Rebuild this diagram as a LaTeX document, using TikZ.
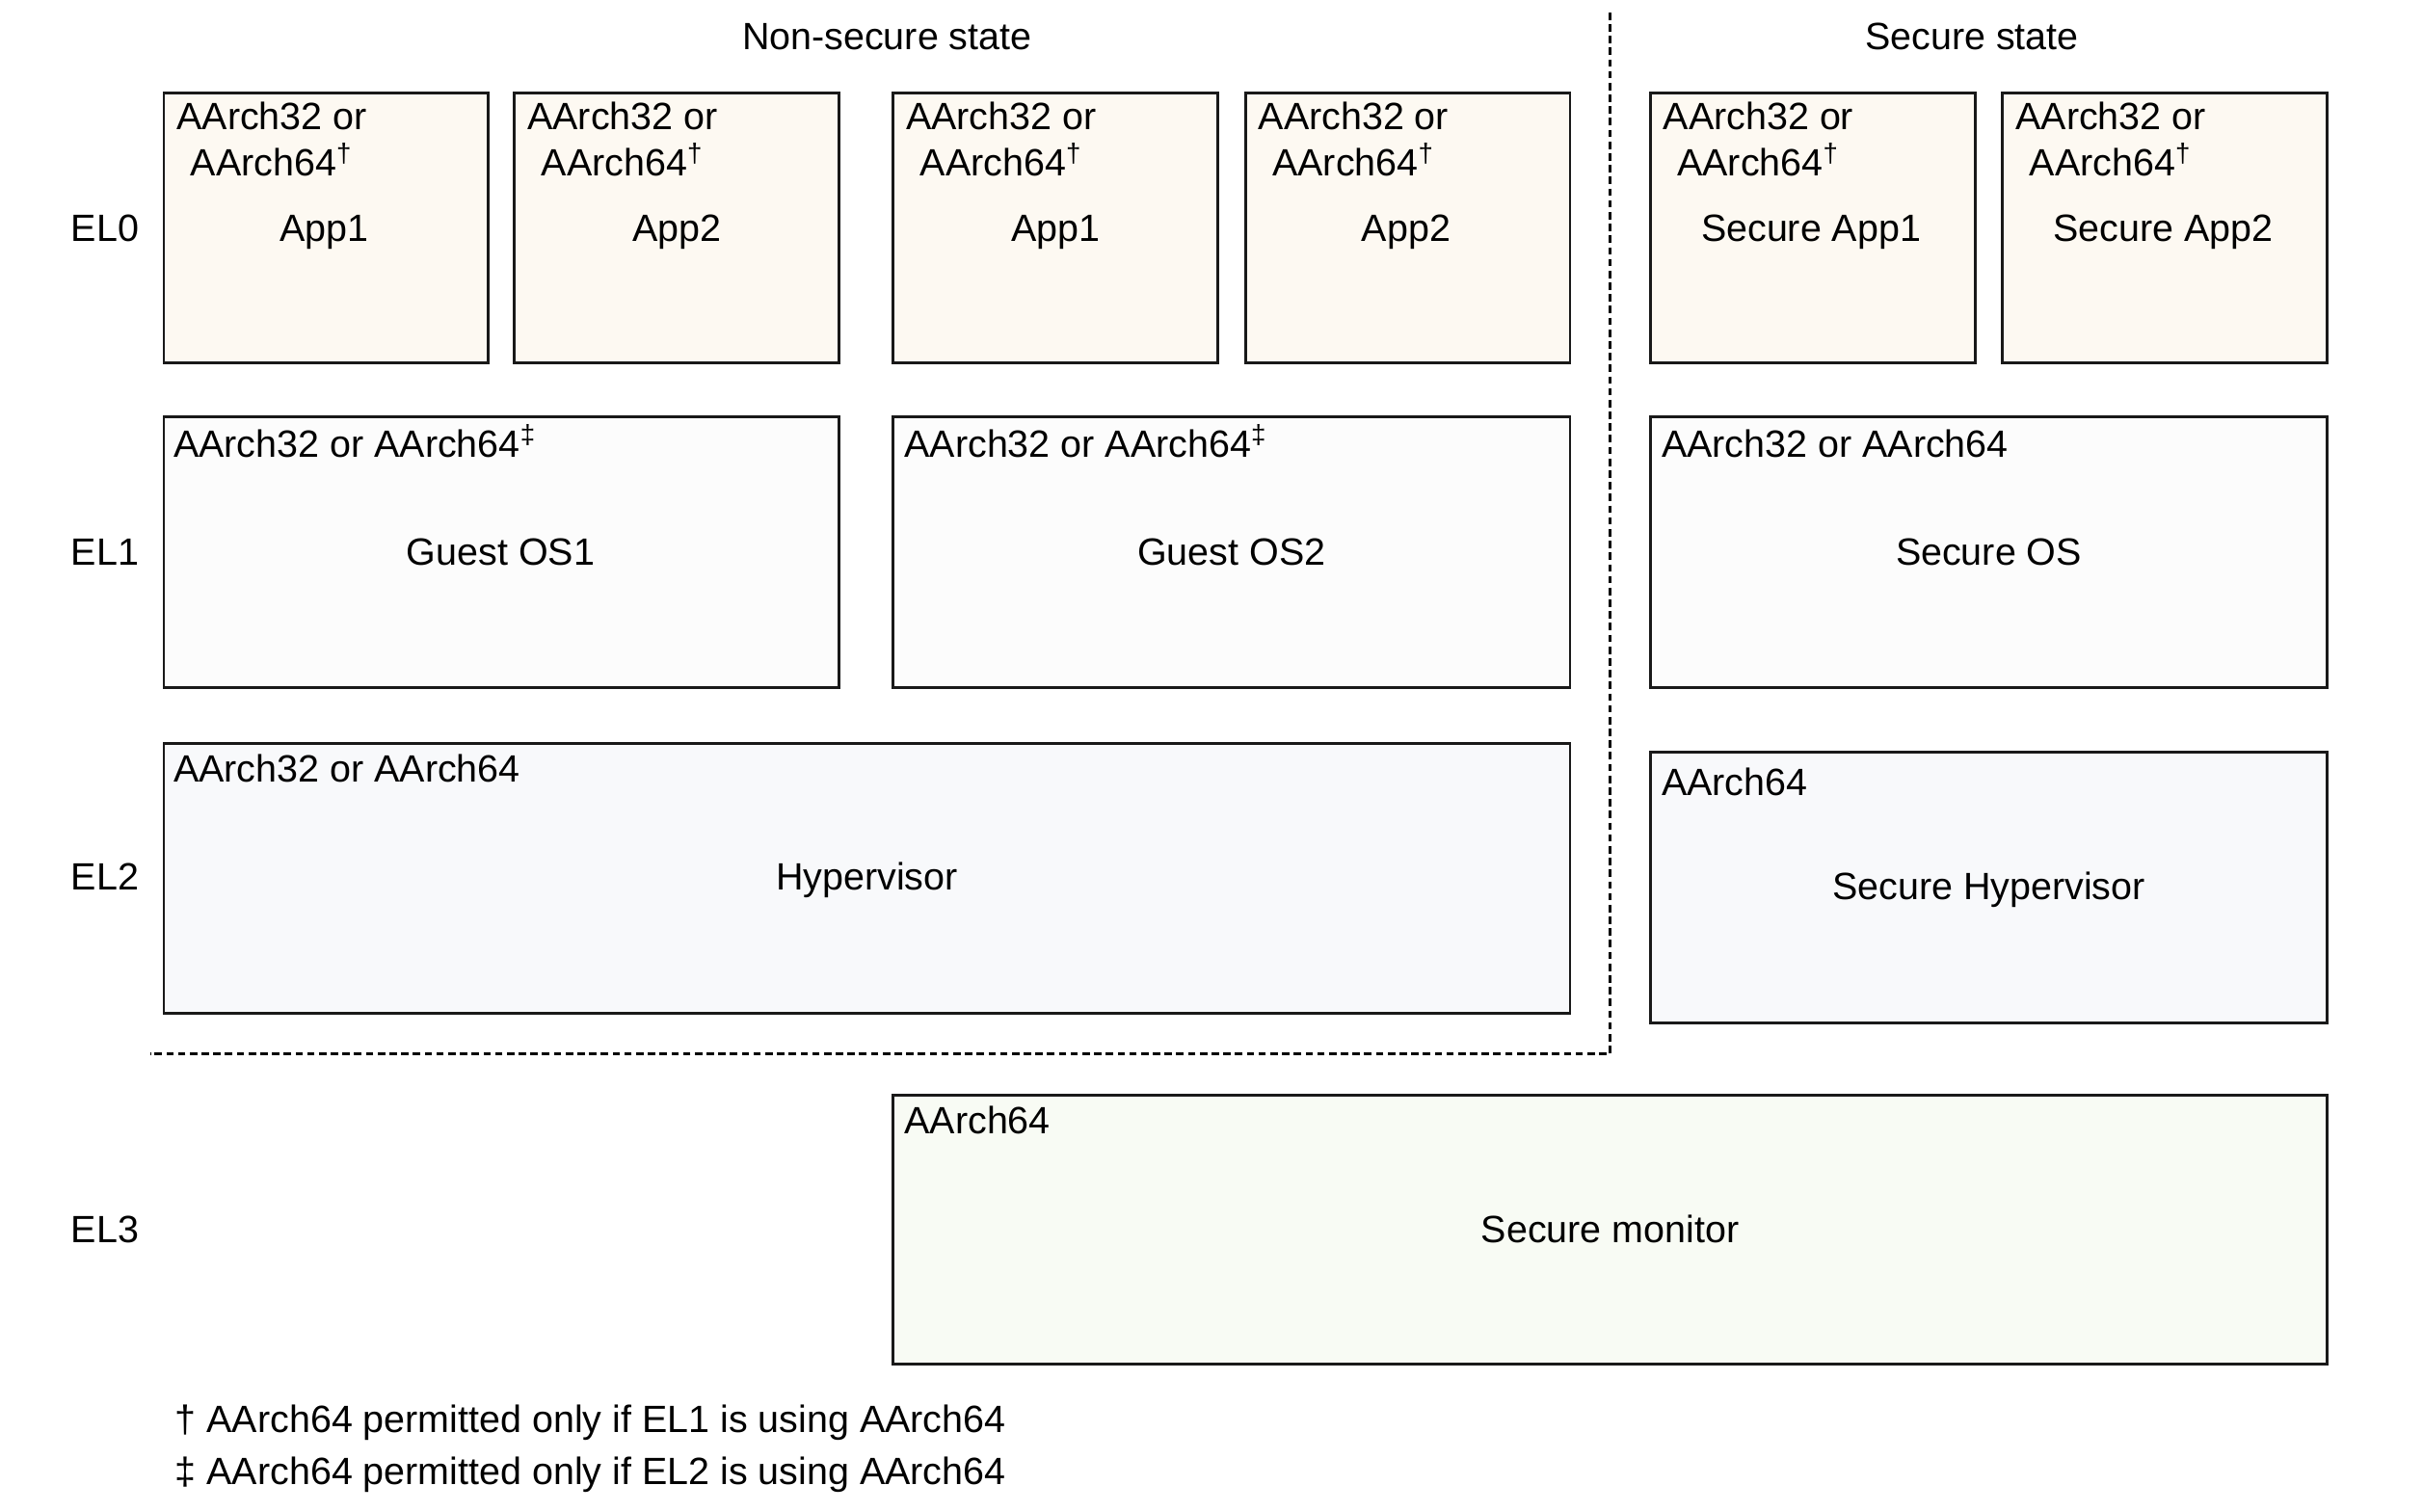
\documentclass[tikz,border=0pt]{standalone}
\usepackage{fontspec}
\setmainfont{Liberation Sans}
\usetikzlibrary{fit}
\definecolor{appfill}{HTML}{FDF9F2}
\definecolor{osfill}{HTML}{FCFCFC}
\definecolor{hypfill}{HTML}{F8F9FB}
\definecolor{monfill}{HTML}{F8FBF4}
\begin{document}
\begin{tikzpicture}[x=0.5pt,y=-0.5pt,
  every node/.style={font=\fontsize{12.3}{14.5}\selectfont, inner sep=0pt},
  box/.style={draw=black!90, line width=0.9pt, inner sep=0pt},
  tl/.style={anchor=base west},
  ctr/.style={anchor=base},
  divider/.style={line width=0.75pt, dash pattern=on 2.4pt off 1.4pt}]
\useasboundingbox (0,0) rectangle (1568,978);
\newcommand{\twol}[1]{\begin{tabular}[t]{@{}c@{}}AArch32 or\\AArch64\textsuperscript{#1}\end{tabular}}

% titles
\node[ctr] (nstitle) at (574,32) {Non-secure state};
\node[ctr] (stitle) at (1276,32) {Secure state};

% EL labels
\node[ctr] (el0) at (68,156) {EL0};
\node[ctr] (el1) at (68,366) {EL1};
\node[ctr] (el2) at (68,576) {EL2};
\node[ctr] (el3) at (68,804) {EL3};

% EL0 boxes
\node[box, fill=appfill, fit={(106,60)(316,235)}] (a1) {};
\node[box, fill=appfill, fit={(333,60)(543,235)}] (a2) {};
\node[box, fill=appfill, fit={(578,60)(788,235)}] (a3) {};
\node[box, fill=appfill, fit={(806,60)(1016,235)}] (a4) {};
\node[box, fill=appfill, fit={(1068,60)(1278,235)}] (a5) {};
\node[box, fill=appfill, fit={(1296,60)(1506,235)}] (a6) {};

\node[tl] (a1t) at (114,84) {\twol{\textdagger}};
\node[tl] (a2t) at (341,84) {\twol{\textdagger}};
\node[tl] (a3t) at (586,84) {\twol{\textdagger}};
\node[tl] (a4t) at (814,84) {\twol{\textdagger}};
\node[tl] (a5t) at (1076,84) {\twol{\textdagger}};
\node[tl] (a6t) at (1304,84) {\twol{\textdagger}};

\node[ctr] (a1c) at (210,156) {App1};
\node[ctr] (a2c) at (438,156) {App2};
\node[ctr] (a3c) at (683,156) {App1};
\node[ctr] (a4c) at (910,156) {App2};
\node[ctr] (a5c) at (1172,156) {Secure App1};
\node[ctr] (a6c) at (1400,156) {Secure App2};

% EL1 boxes
\node[box, fill=osfill, fit={(106,270)(543,445)}] (os1) {};
\node[box, fill=osfill, fit={(578,270)(1016,445)}] (os2) {};
\node[box, fill=osfill, fit={(1068,270)(1506,445)}] (sos) {};
\node[tl] (os1t) at (112,296) {AArch32 or AArch64\textsuperscript{\textdaggerdbl}};
\node[tl] (os2t) at (585,296) {AArch32 or AArch64\textsuperscript{\textdaggerdbl}};
\node[tl] (sost) at (1075,296) {AArch32 or AArch64};
\node[ctr] (os1c) at (324,366) {Guest OS1};
\node[ctr] (os2c) at (797,366) {Guest OS2};
\node[ctr] (sosc) at (1287,366) {Secure OS};

% EL2 boxes
\node[box, fill=hypfill, fit={(106,481)(1016,656)}] (hyp) {};
\node[box, fill=hypfill, fit={(1068,487)(1506,662)}] (shyp) {};
\node[tl] (hypt) at (112,506) {AArch32 or AArch64};
\node[tl] (shypt) at (1075,515) {AArch64};
\node[ctr] (hypc) at (561,576) {Hypervisor};
\node[ctr] (shypc) at (1287,582) {Secure Hypervisor};

% EL3 box
\node[box, fill=monfill, fit={(578,709)(1506,883)}] (mon) {};
\node[tl] (mont) at (585,734) {AArch64};
\node[ctr] (monc) at (1042,804) {Secure monitor};

% dividers
\coordinate (vtop) at (1042,8);
\coordinate (corner) at (1042,682);
\coordinate (hleft) at (97,682);
\draw[divider] (vtop) -- (corner) -- (hleft);

% footnotes
\node[tl] (fn1) at (113,927) {\textdagger{} AArch64 permitted only if EL1 is using AArch64};
\node[tl] (fn2) at (113,961) {\textdaggerdbl{} AArch64 permitted only if EL2 is using AArch64};
\end{tikzpicture}
\end{document}
